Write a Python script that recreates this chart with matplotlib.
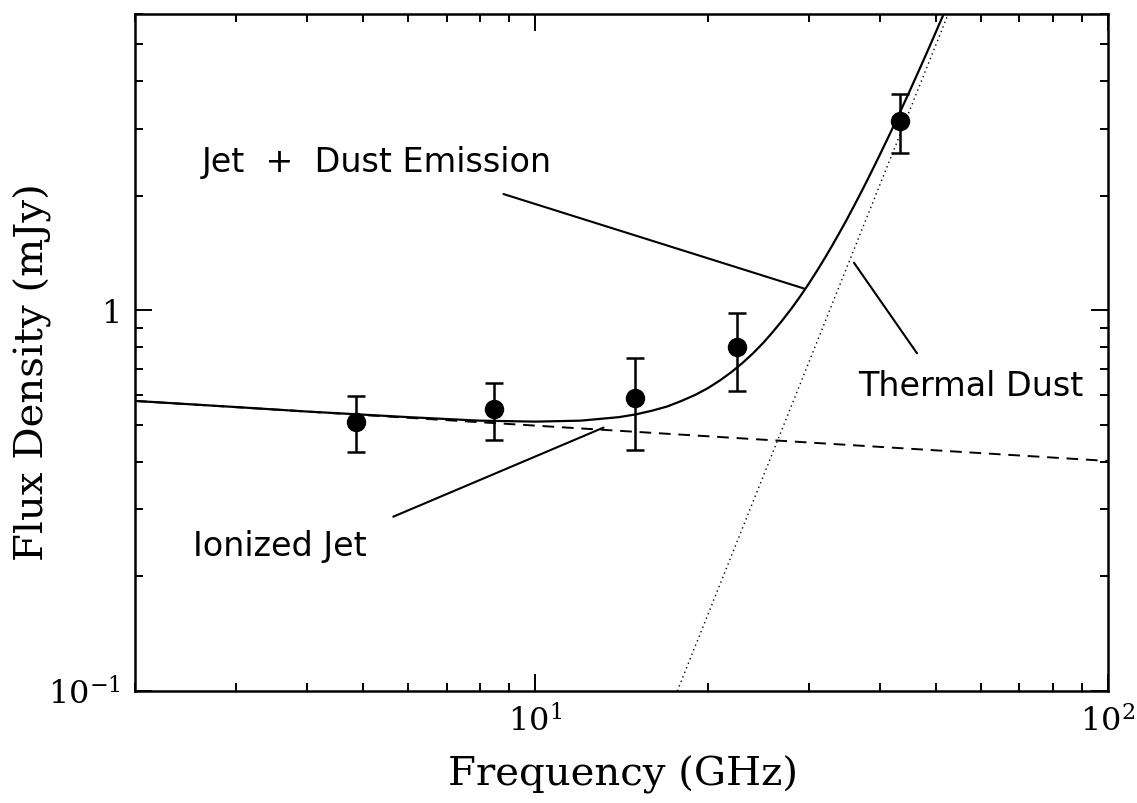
import matplotlib

matplotlib.use("Agg")
import matplotlib.pyplot as plt
from matplotlib.ticker import FixedLocator, LogLocator, NullFormatter, FixedFormatter

INK = "black"

plt.rcParams.update({
    "font.family": "DejaVu Serif",
    "mathtext.fontset": "dejavuserif",
})

# observed points (GHz, mJy)
freq_obs = [4.86, 8.46, 14.94, 22.46, 43.34]
flux_obs = [0.51, 0.55, 0.59, 0.80, 3.14]
flux_err = [0.085, 0.095, 0.16, 0.185, 0.55]

# ionized jet (dashed) - end points
jet_freq = [2.0, 100.0]
jet_flux = [0.578, 0.402]

# thermal dust (dotted)
dust_freq = [17.7, 52.6]
dust_flux = [0.1, 6.0]

# jet + dust total (solid), sampled along the curve
tot_freq = [2, 3, 4, 6, 8, 10, 12, 14, 15, 16, 17, 18, 19, 20, 21, 22, 23,
            24, 25, 26, 27, 28, 29, 30, 31, 32, 33, 34, 35, 36, 37, 38, 39,
            40, 41, 42, 43, 44, 45, 46, 47, 48, 49, 50, 51, 52]
tot_flux = [0.578, 0.557, 0.542, 0.524, 0.513, 0.510, 0.513, 0.524, 0.533,
            0.545, 0.559, 0.578, 0.599, 0.624, 0.654, 0.688, 0.727, 0.771,
            0.821, 0.878, 0.941, 1.010, 1.087, 1.172, 1.266, 1.368, 1.480,
            1.602, 1.733, 1.877, 2.031, 2.198, 2.378, 2.570, 2.776, 2.995,
            3.233, 3.485, 3.751, 4.038, 4.340, 4.660, 5.000, 5.363, 5.743,
            6.140]

fig = plt.figure(figsize=(11.37, 8.04), dpi=100)
ax = fig.add_axes([0.1187, 0.1393, 0.8558, 0.842])
ax.set_xscale("log")
ax.set_yscale("log")
ax.set_xlim(2, 100)
ax.set_ylim(0.1, 6)

ax.plot(tot_freq, tot_flux, color=INK, lw=1.6, solid_joinstyle="round")
ax.plot(jet_freq, jet_flux, color=INK, lw=1.4, ls=(0, (6, 4)))
ax.plot(dust_freq, dust_flux, color=INK, lw=1.0, ls=(0, (1, 2.5)))
ax.errorbar(freq_obs, flux_obs, yerr=flux_err, fmt="o", color=INK, ms=13,
            elinewidth=1.8, capsize=6.5, capthick=1.8, zorder=5)

# labels with pointer lines
sans = "DejaVu Sans"
ax.text(2.62, 2.46, "Jet  +  Dust Emission", fontsize=24, family=sans,
        ha="left", va="center")
ax.annotate("", xy=(29.5, 1.14), xytext=(8.8, 2.02),
            arrowprops=dict(arrowstyle="-", lw=1.5, color=INK,
                            shrinkA=0, shrinkB=0))
ax.text(2.53, 0.2416, "Ionized Jet", fontsize=24, family=sans,
        ha="left", va="center")
ax.annotate("", xy=(13.16, 0.492), xytext=(5.65, 0.287),
            arrowprops=dict(arrowstyle="-", lw=1.5, color=INK,
                            shrinkA=0, shrinkB=0))
ax.text(36.6, 0.635, "Thermal Dust", fontsize=24, family=sans,
        ha="left", va="center")
ax.annotate("", xy=(46.4, 0.771), xytext=(36.0, 1.334),
            arrowprops=dict(arrowstyle="-", lw=1.5, color=INK,
                            shrinkA=0, shrinkB=0))

# ticks
ax.xaxis.set_major_locator(FixedLocator([10, 100]))
ax.xaxis.set_major_formatter(FixedFormatter([r"$10^{1}$", r"$10^{2}$"]))
ax.xaxis.set_minor_locator(LogLocator(base=10, subs=range(2, 10)))
ax.xaxis.set_minor_formatter(NullFormatter())
ax.yaxis.set_major_locator(FixedLocator([0.1, 1]))
ax.yaxis.set_major_formatter(FixedFormatter([r"$10^{-1}$", "1"]))
ax.yaxis.set_minor_locator(LogLocator(base=10, subs=range(2, 10)))
ax.yaxis.set_minor_formatter(NullFormatter())

ax.tick_params(which="both", direction="in", top=True, right=True,
               width=1.4, color=INK)
ax.tick_params(which="major", length=12, labelsize=23, pad=10)
ax.tick_params(which="minor", length=6)
for s in ax.spines.values():
    s.set_linewidth(1.8)

fig.text(0.548, 0.036, "Frequency (GHz)", fontsize=29,
         ha="center", va="center")
fig.text(0.029, 0.537, "Flux Density (mJy)", fontsize=29, rotation=90,
         ha="center", va="center")

fig.savefig("out.png", dpi=100)
